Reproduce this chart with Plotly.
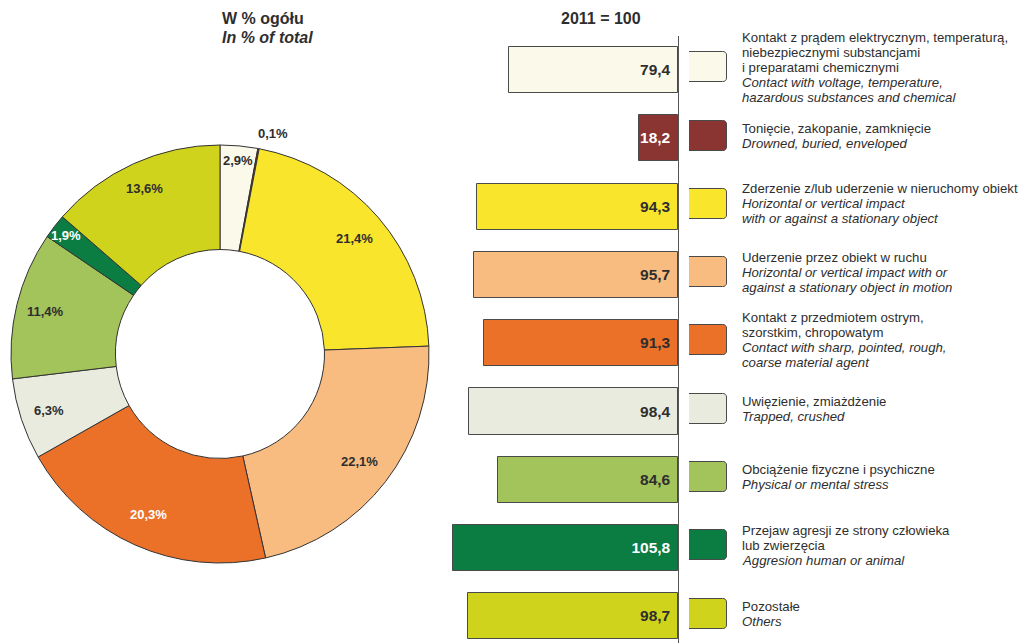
import math
import plotly.graph_objects as go

# ---------------- data ----------------
categories_pl = [
    "Kontakt z prądem elektrycznym, temperaturą,<br>niebezpiecznymi substancjami<br>i preparatami chemicznymi",
    "Tonięcie, zakopanie, zamknięcie",
    "Zderzenie z/lub uderzenie w nieruchomy obiekt",
    "Uderzenie przez obiekt w ruchu",
    "Kontakt z przedmiotem ostrym,<br>szorstkim, chropowatym",
    "Uwięzienie, zmiażdżenie",
    "Obciążenie fizyczne i psychiczne",
    "Przejaw agresji ze strony człowieka<br>lub zwierzęcia",
    "Pozostałe",
]
categories_en = [
    "Contact with voltage, temperature,<br>hazardous substances and chemical",
    "Drowned, buried, enveloped",
    "Horizontal or vertical impact<br>with or against a stationary object",
    "Horizontal or vertical impact with or<br>against a stationary object in motion",
    "Contact with sharp, pointed, rough,<br>coarse material agent",
    "Trapped, crushed",
    "Physical or mental stress",
    "Aggresion human or animal",
    "Others",
]
share_pct = [2.9, 0.1, 21.4, 22.1, 20.3, 6.3, 11.4, 1.9, 13.6]
index_2011 = [79.4, 18.2, 94.3, 95.7, 91.3, 98.4, 84.6, 105.8, 98.7]
colors = ["#FBF9EA", "#8A3532", "#F9E52B", "#F8BC80", "#EB7129",
          "#E9EBDF", "#A3C35B", "#0B7D43", "#D0D31B"]

# ---------------- style ----------------
W, H = 1021, 643
TXT = "#2e2e2e"
FONT = "Arial, Liberation Sans, sans-serif"
dark_text = ["#2e2e2e", "white", "#2e2e2e", "#2e2e2e", "#2e2e2e",
             "#2e2e2e", "#2e2e2e", "white", "#2e2e2e"]
pie_text = ["#2e2e2e", "#2e2e2e", "#2e2e2e", "#2e2e2e", "white",
            "#2e2e2e", "#2e2e2e", "white", "#2e2e2e"]
label_r = [0.93, 1.075, 0.85, 0.84, 0.84, 0.86, 0.86, 0.93, 0.87]

def fmt(v):
    return f"{v:.1f}".replace(".", ",")

fig = go.Figure()

# ---- donut ----
cx, cy, R = 220, 354, 209
pie_dom_x = [(cx - R) / W, (cx + R) / W]
pie_dom_y = [1 - (cy + R) / H, 1 - (cy - R) / H]
fig.add_trace(go.Pie(
    values=share_pct, labels=[c.split("<br>")[0] for c in categories_pl],
    sort=False, direction="clockwise", rotation=0, hole=0.5,
    marker=dict(colors=colors, line=dict(color="#333333", width=1)),
    textinfo="none", hoverinfo="label+value", showlegend=False,
    domain=dict(x=pie_dom_x, y=pie_dom_y),
))

annotations = []
total = sum(share_pct)
cum = 0.0
for i, v in enumerate(share_pct):
    mid = (cum + v / 2) / total
    cum += v
    ang = 2 * math.pi * mid
    r = R * label_r[i]
    px = cx + r * math.sin(ang)
    py = cy - r * math.cos(ang)
    if i == 1:
        px += 12
    annotations.append(dict(
        x=px / W, y=1 - py / H, xref="paper", yref="paper",
        text=f"<b>{fmt(v)}%</b>", showarrow=False,
        font=dict(family=FONT, size=13, color=pie_text[i]),
        xanchor="center", yanchor="middle"))

# ---- bars ----
ypos = list(range(len(index_2011)))
axis_x_px = 678
px_per_unit = 2.127
bar_left_px = 439
xr = (axis_x_px - bar_left_px) / px_per_unit
y_top_px = 36
row_h = 68.3
first_c = 70
yr_top = (y_top_px - first_c) / row_h
yr_bot = (H - first_c) / row_h
ydom = [0, 1 - y_top_px / H]

fig.add_trace(go.Bar(
    x=index_2011, y=ypos, orientation="h", xaxis="x2", yaxis="y2",
    marker=dict(color=colors, line=dict(color="#4a4a4a", width=1)),
    width=0.675,
    text=[fmt(v) + "\u00a0" for v in index_2011],
    textposition="inside", insidetextanchor="start", textangle=0,
    constraintext="none",
    insidetextfont=dict(family=FONT, size=15.5, color=dark_text),
    texttemplate="<b>%{text}</b>",
    showlegend=False, hoverinfo="x",
))

# ---- legend boxes ----
shift = 0.04
fig.add_trace(go.Bar(
    x=[1] * len(ypos), y=ypos, orientation="h", xaxis="x3", yaxis="y3",
    marker=dict(color=colors, line=dict(color="#4a4a4a", width=1), cornerradius=4),
    width=30 / row_h, showlegend=False, hoverinfo="skip",
))

line_px = 15
for i in ypos:
    lines = [(t, False) for t in categories_pl[i].split("<br>")] + \
            [(t, True) for t in categories_en[i].split("<br>")]
    n = len(lines)
    for k, (t, it) in enumerate(lines):
        off = (k - (n - 1) / 2) * line_px / row_h
        annotations.append(dict(
            x=740 / W, y=i + off, xref="paper", yref="y3",
            text=f"<i>{t}</i>" if it else t,
            showarrow=False, align="left", xanchor="left", yanchor="middle",
            font=dict(family=FONT, size=13.2, color=TXT)))

# ---- titles ----
annotations += [
    dict(x=220 / W, y=1 - 19 / H, xref="paper", yref="paper",
         text="<b>W % ogółu</b>", showarrow=False,
         font=dict(family=FONT, size=16, color=TXT), yanchor="middle"),
    dict(x=220 / W, y=1 - 37 / H, xref="paper", yref="paper",
         text="<b><i>In % of total</i></b>", showarrow=False,
         font=dict(family=FONT, size=16, color=TXT), yanchor="middle"),
    dict(x=601 / W, y=1 - 19 / H, xref="paper", yref="paper",
         text="<b>2011 = 100</b>", showarrow=False,
         font=dict(family=FONT, size=16, color=TXT), yanchor="middle"),
]

fig.update_layout(
    width=W, height=H, margin=dict(l=0, r=0, t=0, b=0),
    paper_bgcolor="white", plot_bgcolor="white",
    font=dict(family=FONT, color=TXT),
    annotations=annotations,
    xaxis2=dict(domain=[bar_left_px / W, axis_x_px / W], range=[xr, 0],
                anchor="y2", visible=False, fixedrange=True),
    yaxis2=dict(domain=ydom, range=[yr_bot, yr_top], anchor="x2", side="right",
                showline=True, linecolor="#555555", linewidth=1,
                showticklabels=False, ticks="", showgrid=False, zeroline=False),
    xaxis3=dict(domain=[689 / W, 727 / W], range=[0, 1], anchor="y3", visible=False),
    yaxis3=dict(domain=ydom, range=[yr_bot + shift, yr_top + shift], anchor="x3",
                visible=False),
    bargap=0,
)

fig.write_html("out.html", config={"displayModeBar": False},
               post_script="document.body.style.margin='0';document.body.style.overflow='hidden';")
